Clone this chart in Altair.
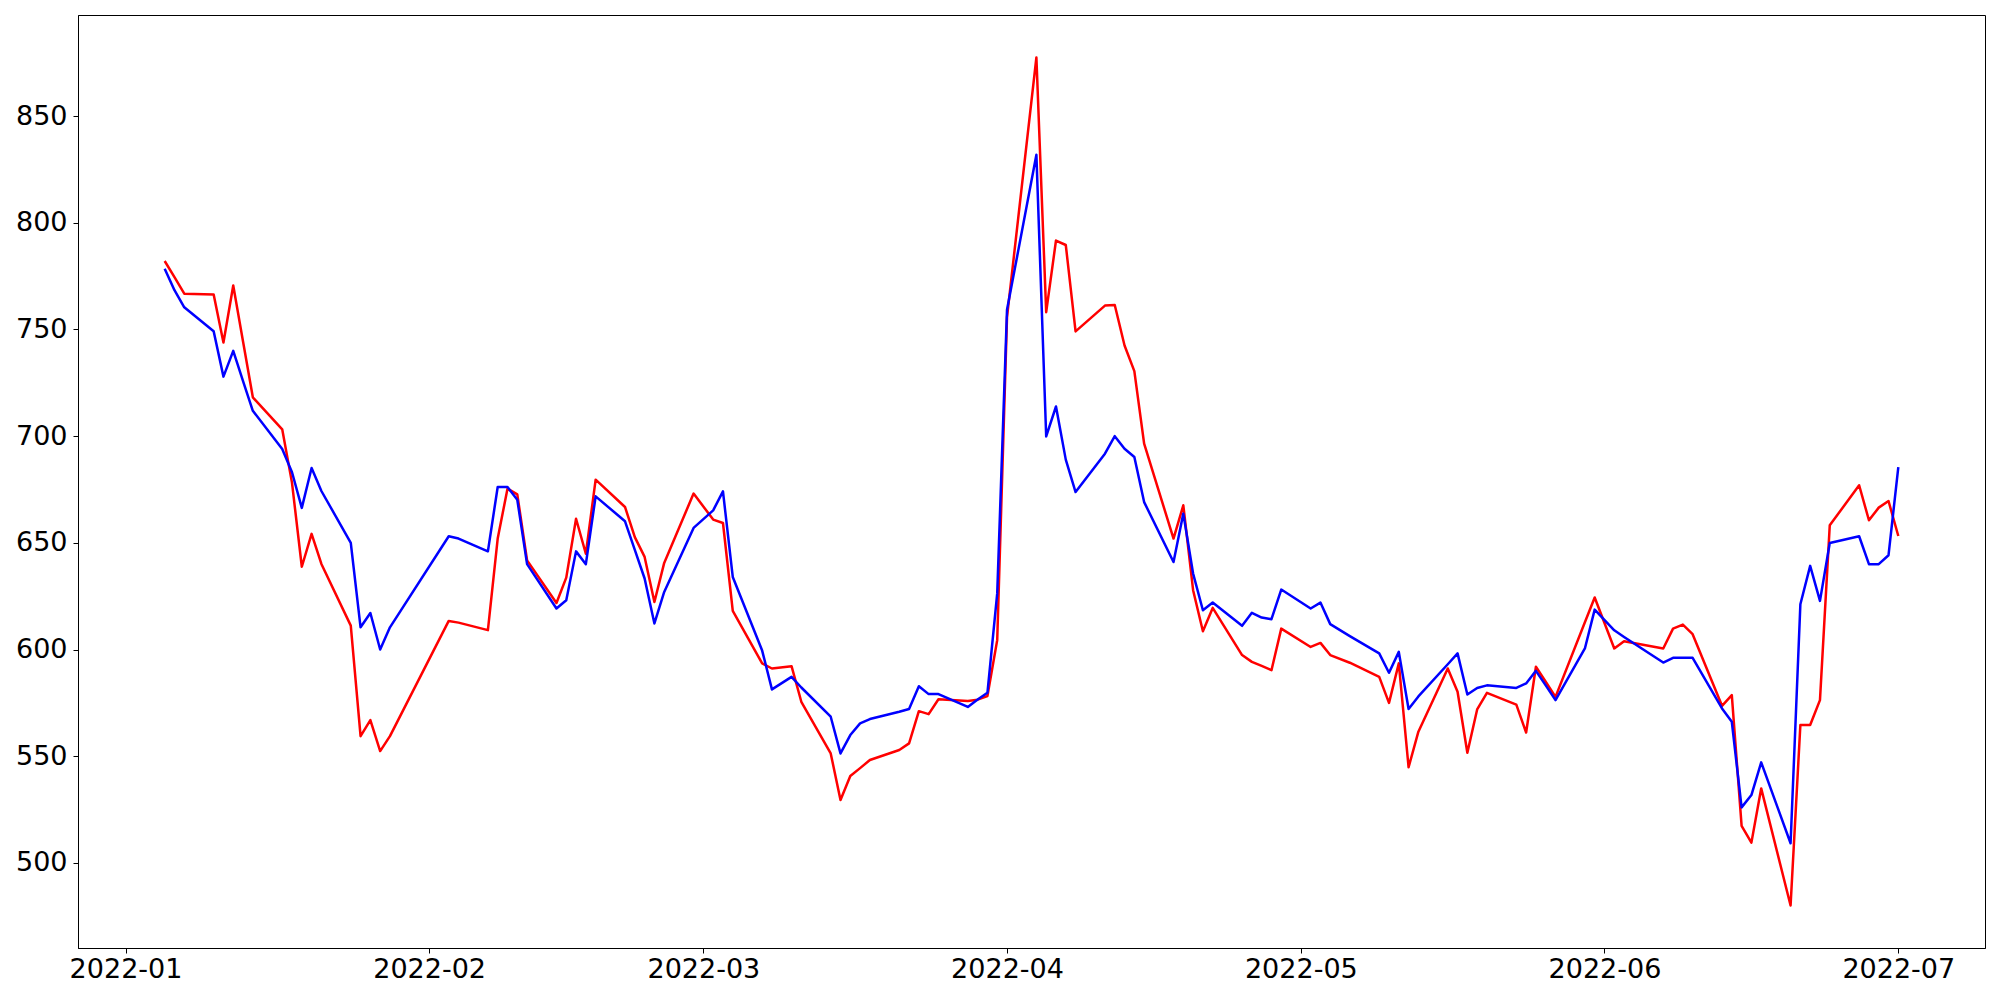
import altair as alt
import pandas as pd

dates = [
    "2022-01-05", "2022-01-06", "2022-01-07", "2022-01-10", "2022-01-11", "2022-01-12", "2022-01-13",
    "2022-01-14", "2022-01-17", "2022-01-18", "2022-01-19", "2022-01-20", "2022-01-21", "2022-01-24",
    "2022-01-25", "2022-01-26", "2022-01-27", "2022-01-28",
    "2022-02-03", "2022-02-04", "2022-02-07", "2022-02-08", "2022-02-09", "2022-02-10", "2022-02-11",
    "2022-02-14", "2022-02-15", "2022-02-16", "2022-02-17", "2022-02-18", "2022-02-21", "2022-02-22",
    "2022-02-23", "2022-02-24", "2022-02-25", "2022-02-28",
    "2022-03-02", "2022-03-03", "2022-03-04", "2022-03-07", "2022-03-08", "2022-03-10", "2022-03-11",
    "2022-03-14", "2022-03-15", "2022-03-16", "2022-03-17", "2022-03-18", "2022-03-21", "2022-03-22",
    "2022-03-23", "2022-03-24", "2022-03-25", "2022-03-28", "2022-03-29", "2022-03-30", "2022-03-31",
    "2022-04-01", "2022-04-04", "2022-04-05", "2022-04-06", "2022-04-07", "2022-04-08", "2022-04-11",
    "2022-04-12", "2022-04-13", "2022-04-14", "2022-04-15", "2022-04-18", "2022-04-19", "2022-04-20",
    "2022-04-21", "2022-04-22", "2022-04-25", "2022-04-26", "2022-04-27", "2022-04-28", "2022-04-29",
    "2022-05-02", "2022-05-03", "2022-05-04", "2022-05-06", "2022-05-09", "2022-05-10", "2022-05-11",
    "2022-05-12", "2022-05-13", "2022-05-16", "2022-05-17", "2022-05-18", "2022-05-19", "2022-05-20",
    "2022-05-23", "2022-05-24", "2022-05-25", "2022-05-26", "2022-05-27", "2022-05-30", "2022-05-31",
    "2022-06-02", "2022-06-03", "2022-06-07", "2022-06-08", "2022-06-09", "2022-06-10", "2022-06-13",
    "2022-06-14", "2022-06-15", "2022-06-16", "2022-06-17", "2022-06-20", "2022-06-21", "2022-06-22",
    "2022-06-23", "2022-06-24", "2022-06-27", "2022-06-28", "2022-06-29", "2022-06-30",
    "2022-07-01",
]

red = [
    782.1, 774.5, 766.8, 766.4, 743.9, 770.6, 744.4,
    718.2, 703.2, 678.1, 638.8, 654.2, 640.1, 611.2,
    559.4, 566.9, 552.4, 559.4,
    613.4, 612.6, 609.1, 652.0, 675.4, 672.7, 641.8,
    621.8, 633.7, 661.3, 644.9, 679.6, 666.8, 652.7,
    643.4, 622.3, 640.6, 673.1,
    660.9, 659.3, 618.1, 593.5, 591.1, 592.2, 575.5,
    551.3, 529.5, 540.7, 544.4, 548.2, 552.9, 556.0,
    571.1, 569.7, 576.7, 575.9, 576.5, 578.2, 604.4,
    755.8, 877.5, 758.1, 791.7, 789.6, 749.1, 761.2,
    761.5, 742.5, 730.5, 696.5, 652.0, 667.6, 627.8,
    608.6, 619.5, 597.4, 594.2, 592.3, 590.3, 609.8,
    601.2, 603.1, 597.4, 593.8, 587.2, 575.0, 593.5,
    544.8, 561.5, 591.1, 580.2, 551.6, 571.9, 579.7,
    574.2, 561.1, 591.9, 584.9, 577.8, 612.8, 624.4,
    600.5, 603.9, 600.5, 609.8, 611.7, 607.2, 573.6,
    578.6, 517.3, 509.5, 534.9, 480.0, 564.6, 564.6,
    576.3, 658.2, 677.0, 660.6, 666.5, 669.6,
    653.2,
]

blue = [
    778.5, 768.4, 760.4, 749.2, 727.9, 740.0, 725.8,
    711.9, 694.0, 683.1, 666.4, 685.1, 674.3, 650.0,
    610.4, 617.1, 600.0, 610.4,
    653.1, 652.0, 646.0, 676.2, 676.2, 670.2, 640.0,
    619.2, 623.1, 646.0, 640.0, 671.8, 660.1, 646.7,
    633.3, 612.2, 627.0, 657.0,
    665.2, 674.1, 634.0, 599.5, 581.3, 587.2, 582.2,
    568.5, 551.3, 559.9, 565.4, 567.4, 570.8, 572.1,
    582.8, 579.1, 579.1, 573.1, 576.6, 579.7, 626.3,
    759.2, 831.9, 699.9, 713.9, 689.0, 673.8, 691.8,
    700.0, 694.1, 690.2, 669.1, 641.0, 663.7, 635.6,
    618.4, 622.0, 611.1, 617.2, 615.0, 614.2, 628.1,
    619.2, 622.0, 611.9, 606.3, 598.2, 589.1, 598.9,
    572.1, 578.0, 593.1, 598.2, 578.9, 582.0, 583.2,
    582.0, 584.1, 590.0, 583.2, 576.3, 600.5, 618.7,
    609.0, 605.9, 593.9, 596.1, 596.1, 596.1, 572.4,
    566.1, 526.0, 531.8, 547.1, 509.2, 621.2, 639.2,
    622.8, 649.9, 653.1, 640.0, 640.0, 644.2,
    685.5,
]

y_ticks = [500, 550, 600, 650, 700, 750, 800, 850]
x_tick_months = [1, 2, 3, 4, 5, 6, 7]

df = pd.concat([
    pd.DataFrame({"date": dates, "value": red, "series": "red"}),
    pd.DataFrame({"date": dates, "value": blue, "series": "blue"}),
], ignore_index=True)

x_domain = [
    alt.DateTime(year=2021, month=12, date=27, hours=3, minutes=36, utc=True),
    alt.DateTime(year=2022, month=7, date=9, hours=20, minutes=24, utc=True),
]
x_values = [alt.DateTime(year=2022, month=m, date=1, utc=True) for m in x_tick_months]

FONT = "DejaVu Sans"

x_enc = alt.X(
    "date:T",
    scale=alt.Scale(type="utc", domain=x_domain),
    axis=alt.Axis(
        values=x_values, format="%Y-%m", title=None, grid=False,
        labelFont=FONT, labelFontSize=27, labelColor="black",
        tickColor="black", tickSize=5, tickWidth=1,
        domainColor="black", domainWidth=1, labelPadding=3,
        labelFlush=False, labelOverlap=False,
    ),
)
y_enc = alt.Y(
    "value:Q",
    scale=alt.Scale(domain=[460.1, 897.4], nice=False, zero=False),
    axis=alt.Axis(
        values=y_ticks, title=None, grid=False,
        labelFont=FONT, labelFontSize=27, labelColor="black",
        tickColor="black", tickSize=5, tickWidth=1,
        domainColor="black", domainWidth=1, labelPadding=6,
        labelOverlap=False,
    ),
)

base = alt.Chart(df)
red_line = base.transform_filter(alt.datum.series == "red").mark_line(
    color="#ff0000", strokeWidth=2.5, strokeJoin="round"
).encode(x=x_enc, y=y_enc)
blue_line = base.transform_filter(alt.datum.series == "blue").mark_line(
    color="#0000ff", strokeWidth=2.5, strokeJoin="round"
).encode(x=x_enc, y=y_enc)

chart = alt.layer(red_line, blue_line).properties(
    width=1907,
    height=933,
    autosize="none",
    padding={"left": 70, "top": 7, "right": 5, "bottom": 40},
    background="white",
).configure_view(stroke="black", strokeWidth=1)

chart.save("out.html", embed_options={"renderer": "svg", "actions": False})
